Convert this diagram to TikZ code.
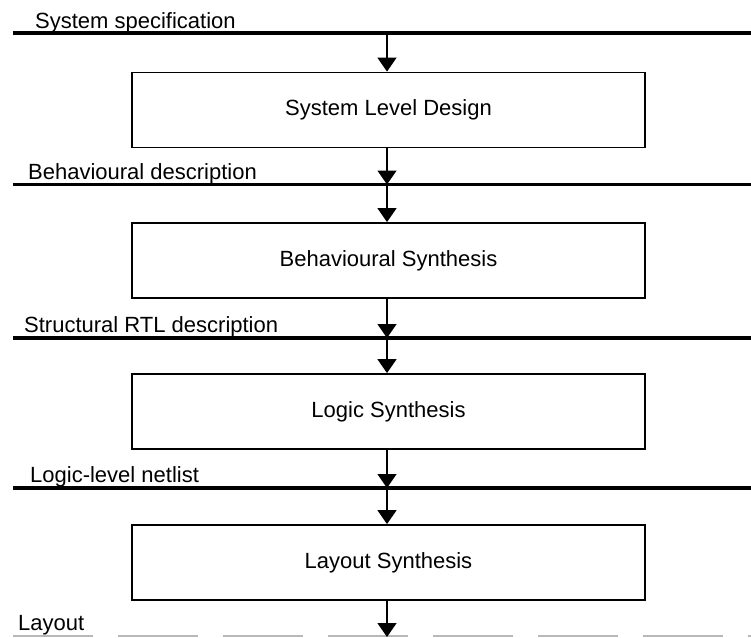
\documentclass[tikz,border=0pt]{standalone}
\usepackage{fontspec}
\setmainfont{Liberation Sans}
\usetikzlibrary{arrows.meta}
\begin{document}
\begin{tikzpicture}[x=1pt,y=-1pt,
  level/.style={line width=3.2pt},
  faint/.style={line width=2pt, draw=black!28, dash pattern=on 80pt off 25pt},
  stage/.style={draw, line width=1.8pt, minimum width=513pt, minimum height=75pt,
    inner sep=0pt, font=\fontsize{22}{26}\selectfont},
  tag/.style={anchor=base west, inner sep=0pt, font=\fontsize{22}{26}\selectfont},
  flow/.style={line width=1.4pt, -{Triangle[width=19pt,length=14pt]}}]
  \useasboundingbox (0,0) rectangle (751,637);

  % abstraction levels
  \draw[level] (13,33) -- (751,33);
  \draw[level] (13,184.5) -- (751,184.5);
  \draw[level] (13,338) -- (751,338);
  \draw[level] (13,488) -- (751,488);
  \draw[faint] (13,635.5) -- (751,635.5);

  \node[tag] (t0) at (35,28) {System specification};
  \node[tag] (t1) at (28,179) {Behavioural description};
  \node[tag] (t2) at (24,332) {Structural RTL description};
  \node[tag] (t3) at (30,482) {Logic-level netlist};
  \node[tag] (t4) at (18,630) {Layout};

  % crossing points of the flow with each level
  \coordinate (s0) at (387,33);
  \coordinate (s1) at (387,184.5);
  \coordinate (s2) at (387,338);
  \coordinate (s3) at (387,488);
  \coordinate (s4) at (387,637);

  % synthesis stages
  \node[stage] (b1) at (388.5,110) {System Level Design};
  \node[stage] (b2) at (388.5,260.5) {Behavioural Synthesis};
  \node[stage] (b3) at (388.5,411.5) {Logic Synthesis};
  \node[stage] (b4) at (388.5,562.5) {Layout Synthesis};

  % flow arrows
  \draw[flow] (s0) -- (s0 |- b1.north);
  \draw[flow] (s0 |- b1.south) -- (s1);
  \draw[flow] (s1) -- (s1 |- b2.north);
  \draw[flow] (s1 |- b2.south) -- (s2);
  \draw[flow] (s2) -- (s2 |- b3.north);
  \draw[flow] (s2 |- b3.south) -- (s3);
  \draw[flow] (s3) -- (s3 |- b4.north);
  \draw[flow] (s3 |- b4.south) -- (s4);
\end{tikzpicture}
\end{document}
